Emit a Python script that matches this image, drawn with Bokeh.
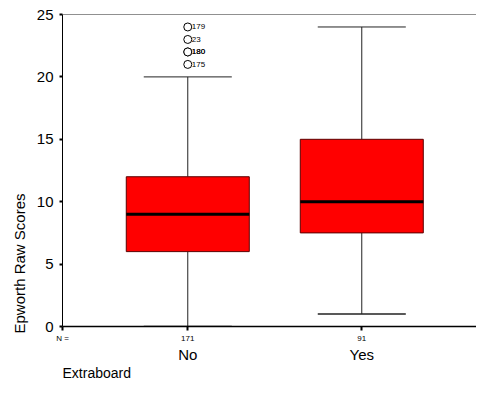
import math
from bokeh.plotting import figure
from bokeh.models import Range1d, LinearAxis, FixedTicker, Span, Title
from bokeh.core.properties import value
from bokeh.embed import file_html
from bokeh.resources import INLINE

# ---- data ----
groups = ["No", "Yes"]
xpos = [1, 2]
n_counts = [171, 91]
q1 = [6, 7.5]
median = [9, 10]
q3 = [12, 15]
whisk_low = [0, 1]
whisk_high = [20, 24]
out_x = [1, 1, 1, 1, 1]
out_values = [24, 23, 22, 22, 21]
out_labels = ["179", "23", "180", "180", "175"]
y_ticks = [0, 5, 10, 15, 20, 25]

FONT = "Liberation Sans"
BOX_W = 0.707
CAP_W = 0.506

W, H = 476, 400
LEFT, TOP, BOTTOM = 62, 14, 74
x_start = 0.28
x_end = x_start + (W - LEFT) / 174.0
y_start, y_end = 0, 25
n_tick = 0.2801  # position of the "N =" caption at the left edge

p = figure(width=W, height=H, x_range=Range1d(x_start, x_end),
           y_range=Range1d(y_start, y_end), output_backend="svg",
           toolbar_location=None, min_border_left=LEFT, min_border_right=0,
           min_border_top=TOP, min_border_bottom=BOTTOM)
p.outline_line_color = None
p.xgrid.visible = False
p.ygrid.visible = False
p.background_fill_color = "white"
p.border_fill_color = "white"

# top line
p.add_layout(Span(location=y_end, dimension="width", line_color="#222222", line_width=1))

# whiskers
p.segment(x0=xpos, y0=q3, x1=xpos, y1=whisk_high, line_color="#222222", line_width=1)
p.segment(x0=xpos, y0=q1, x1=xpos, y1=whisk_low, line_color="#222222", line_width=1)
p.segment(x0=[x - CAP_W / 2 for x in xpos], y0=whisk_high,
          x1=[x + CAP_W / 2 for x in xpos], y1=whisk_high, line_color="#222222", line_width=1)
p.segment(x0=[x - CAP_W / 2 for x in xpos], y0=whisk_low,
          x1=[x + CAP_W / 2 for x in xpos], y1=whisk_low, line_color="#222222", line_width=1.5)

# boxes
p.vbar(x=xpos, width=BOX_W, bottom=q1, top=q3, fill_color="#ff0000",
       line_color="#5a0000", line_width=1)
p.segment(x0=[x - BOX_W / 2 for x in xpos], y0=median,
          x1=[x + BOX_W / 2 for x in xpos], y1=median, line_color="black", line_width=3)

# outliers
p.scatter(x=out_x, y=out_values, marker="circle", size=8, fill_color="white",
          line_color="black", line_width=1)
p.text(x=out_x, y=out_values, text=out_labels, x_offset=4, text_baseline="middle",
       text_align="left", text_font=value(FONT), text_font_size="8px", text_color="black")

# y axis
ya = p.yaxis[0]
ya.ticker = FixedTicker(ticks=y_ticks)
ya.major_label_text_font = FONT
ya.major_label_text_font_size = "15px"
ya.major_label_text_color = "black"
ya.major_tick_out = 3
ya.major_tick_in = 0
ya.major_tick_line_width = 2
ya.minor_tick_line_color = None
ya.axis_line_color = "black"
ya.major_label_standoff = 6

# bottom axis (N row)
xa = p.xaxis[0]
xa.ticker = FixedTicker(ticks=[n_tick] + xpos)
overrides = {x: str(n) for x, n in zip(xpos, n_counts)}
overrides[n_tick] = "N ="
xa.major_label_overrides = overrides
xa.major_label_text_font = FONT
xa.major_label_text_font_size = "8px"
xa.major_label_text_color = "black"
xa.major_tick_out = 4
xa.major_tick_in = 0
xa.major_tick_line_width = 2
xa.minor_tick_line_color = None
xa.axis_line_width = 1.5
xa.axis_line_color = "black"
xa.major_label_standoff = 3

# category axis
ca = LinearAxis(ticker=FixedTicker(ticks=xpos),
                major_label_overrides={x: g for x, g in zip(xpos, groups)})
ca.axis_line_color = None
ca.major_tick_line_color = None
ca.minor_tick_line_color = None
ca.major_label_text_font = FONT
ca.major_label_text_font_size = "15px"
ca.major_label_text_color = "black"
ca.major_label_standoff = -6
p.add_layout(ca, "below")

# axis titles
p.add_layout(Title(text="Extraboard", align="left", text_font=FONT,
                   text_font_size="14px", text_font_style="normal",
                   text_color="black", standoff=-5), "below")
p.add_layout(Title(text="Epworth Raw Scores", align="left", text_font=FONT,
                   text_font_size="15px", text_font_style="normal",
                   text_color="black", standoff=11, offset=-7), "left")

open("out.html", "w").write(file_html(p, INLINE))
